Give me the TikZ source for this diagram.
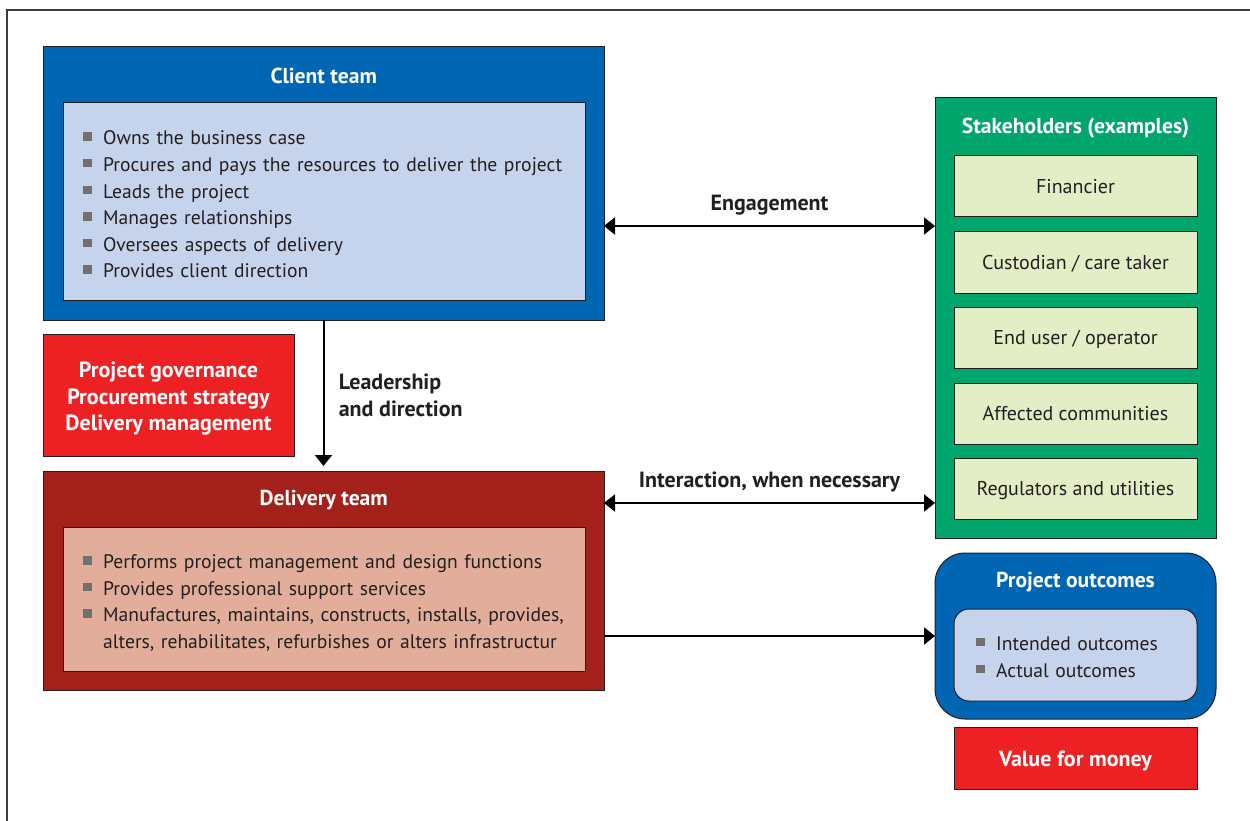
\documentclass[tikz,border=0pt]{standalone}
\usepackage{fontspec}
\setmainfont{PT Sans}
\usetikzlibrary{positioning, arrows.meta, calc}

\definecolor{clientblue}{RGB}{0,102,179}
\definecolor{lightblue}{RGB}{198,211,236}
\definecolor{deliveryred}{RGB}{163,33,26}
\definecolor{lightpink}{RGB}{226,174,155}
\definecolor{brightred}{RGB}{237,32,36}
\definecolor{stakegreen}{RGB}{0,166,108}
\definecolor{lightgreen}{RGB}{228,238,198}
\definecolor{bulletgray}{RGB}{112,112,112}
\definecolor{textdark}{RGB}{35,31,32}
\definecolor{framegray}{RGB}{60,60,60}

\newcommand{\bitem}[1]{\noindent\hangindent=20pt\hangafter=1
  \makebox[20pt][l]{\textcolor{bulletgray}{\rule[4pt]{8.5pt}{8.5pt}}}#1\par}

\begin{document}
\begin{tikzpicture}[x=1pt, y=-1pt,
      box/.style={draw=textdark, line width=1pt, outer sep=0pt, anchor=north west, inner sep=0pt},
      head/.style={font=\fontsize{21.6}{26}\selectfont\bfseries, text=white, inner sep=0pt},
      list/.style={font=\fontsize{19.6}{26.6}\selectfont, text=textdark, inner sep=0pt, anchor=west, align=left},
      item/.style={draw=textdark, line width=1pt, fill=lightgreen, outer sep=0pt, minimum width=243pt, minimum height=61pt,
        font=\fontsize{20}{24}\selectfont, text=textdark, text depth=1pt},
      lbl/.style={font=\fontsize{22}{26.5}\selectfont\bfseries, text=textdark},
      arr/.style={-{Triangle[length=11pt, width=17pt]}, line width=2pt},
      biarr/.style={{Triangle[length=11pt, width=17pt]}-{Triangle[length=11pt, width=17pt]}, line width=2pt}]

      \useasboundingbox (0,0) rectangle (1250,821);
      \draw[framegray, line width=2pt] (1250,10) -- (7,10) -- (7,821);

      % client team
      \node[box, fill=clientblue, minimum width=561pt, minimum height=273pt] (client) at (43,47) {};
      \node[box, fill=lightblue, minimum width=522pt, minimum height=197pt] (clientin) at (63,103) {};
      \node[head] (clienthead) at ($(client.north)!0.5!(clientin.north)+(0,1)$) {Client team};
      \node[list, text width=500pt] (clientlist) at ($(clientin.west)+(20,3)$) {%
        \bitem{Owns the business case}
        \bitem{Procures and pays the resources to deliver the project}
        \bitem{Leads the project}
        \bitem{Manages relationships}
        \bitem{Oversees aspects of delivery}
        \bitem{Provides client direction}};

      % governance
      \node[box, fill=brightred, minimum width=251pt, minimum height=122pt] (govern) at (43,334) {};
      \node[head, align=center, font=\fontsize{22}{26.5}\selectfont\bfseries] (governtext) at ($(govern.center)+(0,4)$)
        {Project governance\\Procurement strategy\\Delivery management};

      % delivery team
      \node[box, fill=deliveryred, minimum width=561pt, minimum height=219pt] (delivery) at (43,471) {};
      \node[box, fill=lightpink, minimum width=522pt, minimum height=144pt] (deliveryin) at (63,527) {};
      \node[head] (deliveryhead) at ($(delivery.north)!0.5!(deliveryin.north)+(0,1)$) {Delivery team};
      \node[list, text width=500pt] (deliverylist) at ($(deliveryin.west)+(20,4)$) {%
        \bitem{Performs project management and design functions}
        \bitem{Provides professional support services}
        \bitem{Manufactures, maintains, constructs, installs, provides,\newline
          alters, rehabilitates, refurbishes or alters infrastructur}};

      % stakeholders
      \node[box, fill=stakegreen, minimum width=281pt, minimum height=440pt] (stake) at (935,98) {};
      \node[item, anchor=north] (financier) at ($(stake.north)+(0,58)$) {Financier};
      \node[head] (stakehead) at ($(stake.north)!0.5!(financier.north)+(0,1)$) {Stakeholders (examples)};
      \node[item, below=15pt of financier] (custodian) {Custodian / care taker};
      \node[item, below=14pt of custodian] (enduser) {End user / operator};
      \node[item, below=15pt of enduser] (affected) {Affected communities};
      \node[item, below=14pt of affected] (regulators) {Regulators and utilities};

      % outcomes
      \node[box, fill=clientblue, rounded corners=30pt, minimum width=281pt, minimum height=166pt] (outcomes) at (935,553) {};
      \node[box, fill=lightblue, rounded corners=15pt, minimum width=243pt, minimum height=92pt] (outcomesin) at (954,609) {};
      \node[head] (outcomeshead) at ($(outcomes.north)!0.5!(outcomesin.north)+(0,1)$) {Project outcomes};
      \node[list, text width=210pt] (outcomeslist) at ($(outcomesin.west)+(22,2)$) {%
        \bitem{Intended outcomes}
        \bitem{Actual outcomes}};

      \node[box, fill=brightred, minimum width=243pt, minimum height=62pt] (value) at (954,727) {};
      \node[head, font=\fontsize{22}{26}\selectfont\bfseries] (valuetext) at ($(value.center)+(0,3)$) {Value for money};

      % connectors
      \coordinate (engage) at (770,226);
      \coordinate (interact) at (770,503);
      \draw[biarr] (engage -| client.east) -- (engage -| stake.west)
        node[midway, above=7pt, lbl] (engagetext) {Engagement};
      \draw[biarr] (interact -| delivery.east) -- (interact -| stake.west)
        node[midway, above=7pt, lbl] (interacttext) {Interaction, when necessary};
      \draw[arr] (outcomes.west -| delivery.east) -- (outcomes.west);
      \draw[arr, shorten >=5pt] (client.south) -- (delivery.north)
        node[midway, right=11pt, align=left, lbl] (leadtext)
        {Leadership\\and direction};
\end{tikzpicture}
\end{document}
